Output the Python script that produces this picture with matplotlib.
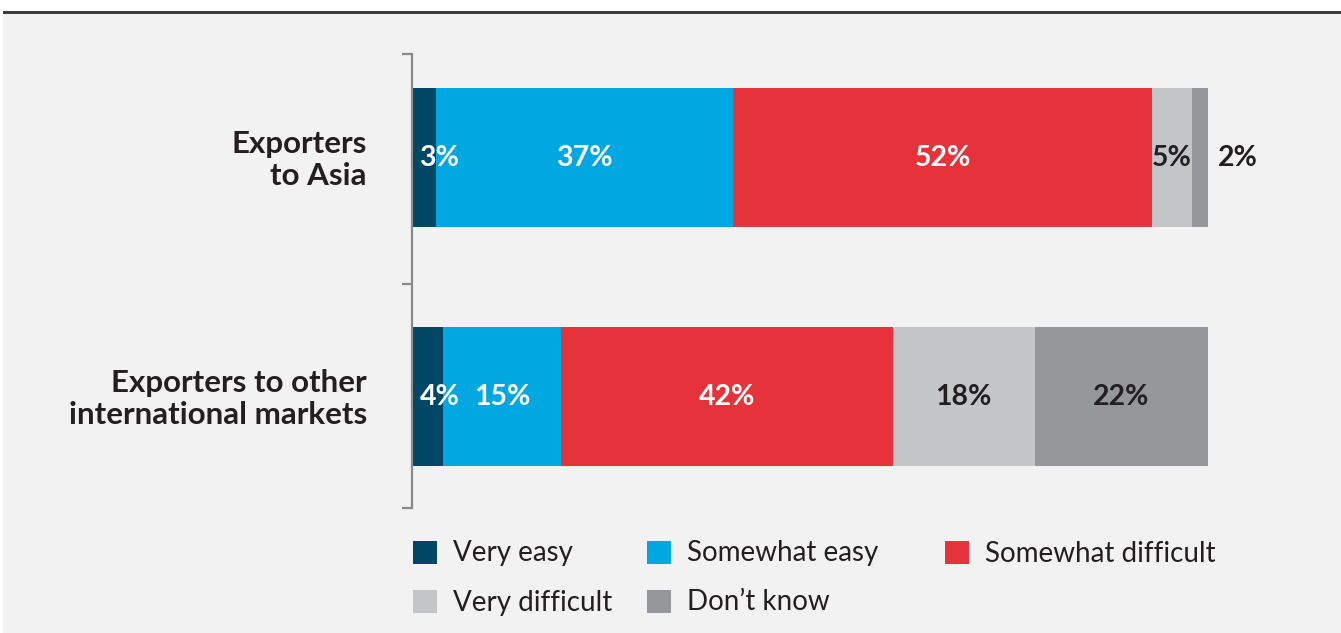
import matplotlib
matplotlib.use("Agg")
import matplotlib.pyplot as plt
from matplotlib.patches import Rectangle
import numpy as np

# Survey responses (percent of exporters)
groups = ["Exporters\nto Asia", "Exporters to other\ninternational markets"]
responses = ["Very easy", "Somewhat easy", "Somewhat difficult", "Very difficult", "Don\u2019t know"]
asia = [3, 37, 52, 5, 2]
other_markets = [4, 15, 42, 18, 22]

colors = ["#004665", "#00a7e1", "#e5323b", "#c4c5c7", "#96979b"]
label_colors = ["white", "white", "white", "#231f20", "#231f20"]

W, H = 1341, 633
fig = plt.figure(figsize=(W / 100, H / 100), dpi=100, facecolor="white")

# Panel background and the dark rule along its top edge
fig.patches.append(Rectangle((3 / W, 0), 1 - 3 / W, 1 - 11 / H, transform=fig.transFigure,
                             facecolor="#f2f2f2", edgecolor="none", zorder=-2))
fig.patches.append(Rectangle((3 / W, 1 - 14 / H), 1 - 3 / W, 3 / H, transform=fig.transFigure,
                             facecolor="#3d3d3d", edgecolor="none", zorder=-1))

ax = fig.add_axes([411.5 / W, 1 - 516 / H, 796.5 / W, 466 / H])
ax.set_facecolor("none")
ax.set_xlim(0, 100)
ax.set_ylim(1.5, -0.45)

rows = [asia, other_markets]
bar_h = 0.58
for r, vals in enumerate(rows):
    vals = np.array(vals, dtype=float)
    shares = vals / vals.sum() * 100
    lefts = np.concatenate([[0], np.cumsum(shares)[:-1]])
    ax.barh(r, shares, left=lefts, height=bar_h, color=colors, edgecolor="none", zorder=2)
    for i, (v, s, l) in enumerate(zip(vals, shares, lefts)):
        txt = f"{int(v)}%"
        if v < 5 and i == len(vals) - 1:
            x, ha = l + s + 1.3, "left"
        elif v < 5:
            x, ha = l + 1.0, "left"
        else:
            x, ha = l + s / 2, "center"
        ax.text(x, r, txt, ha=ha, va="center", fontsize=20.5, fontweight="bold",
                family="Lato", color=label_colors[i], zorder=3)

# Bracket-style left axis
for side in ["top", "right", "bottom"]:
    ax.spines[side].set_visible(False)
ax.spines["left"].set_color("#8a8a8a")
ax.spines["left"].set_linewidth(1.6)
ax.spines["left"].set_bounds(-0.433, 1.467)
ax.set_xticks([])
ax.set_yticks([-0.433, 0.529, 1.467])
ax.set_yticklabels([])
ax.tick_params(axis="y", direction="out", length=7.5, width=1.6, color="#8a8a8a")

# Group labels
for r, g in enumerate(groups):
    ax.text(-5.6, r + 0.01, g, ha="right", va="center", multialignment="right",
            fontsize=22.5, fontweight="bold", family="Lato", color="#231f20",
            linespacing=1.2)

# Legend laid out in two rows
legend_cols = [413, 647, 945]
legend_rows = [552, 601]
for i, (name, c) in enumerate(zip(responses, colors)):
    col, row = i % 3, i // 3
    x0, yc = legend_cols[col], legend_rows[row]
    fig.patches.append(Rectangle((x0 / W, 1 - (yc + 12) / H), 24 / W, 23 / H,
                                 transform=fig.transFigure, facecolor=c,
                                 edgecolor="none", zorder=2))
    fig.text((x0 + 40) / W, 1 - (yc + 1.5) / H, name, ha="left", va="center",
             fontsize=20, family="Lato", color="#231f20")

fig.savefig("out.png", dpi=100, facecolor=fig.get_facecolor())
